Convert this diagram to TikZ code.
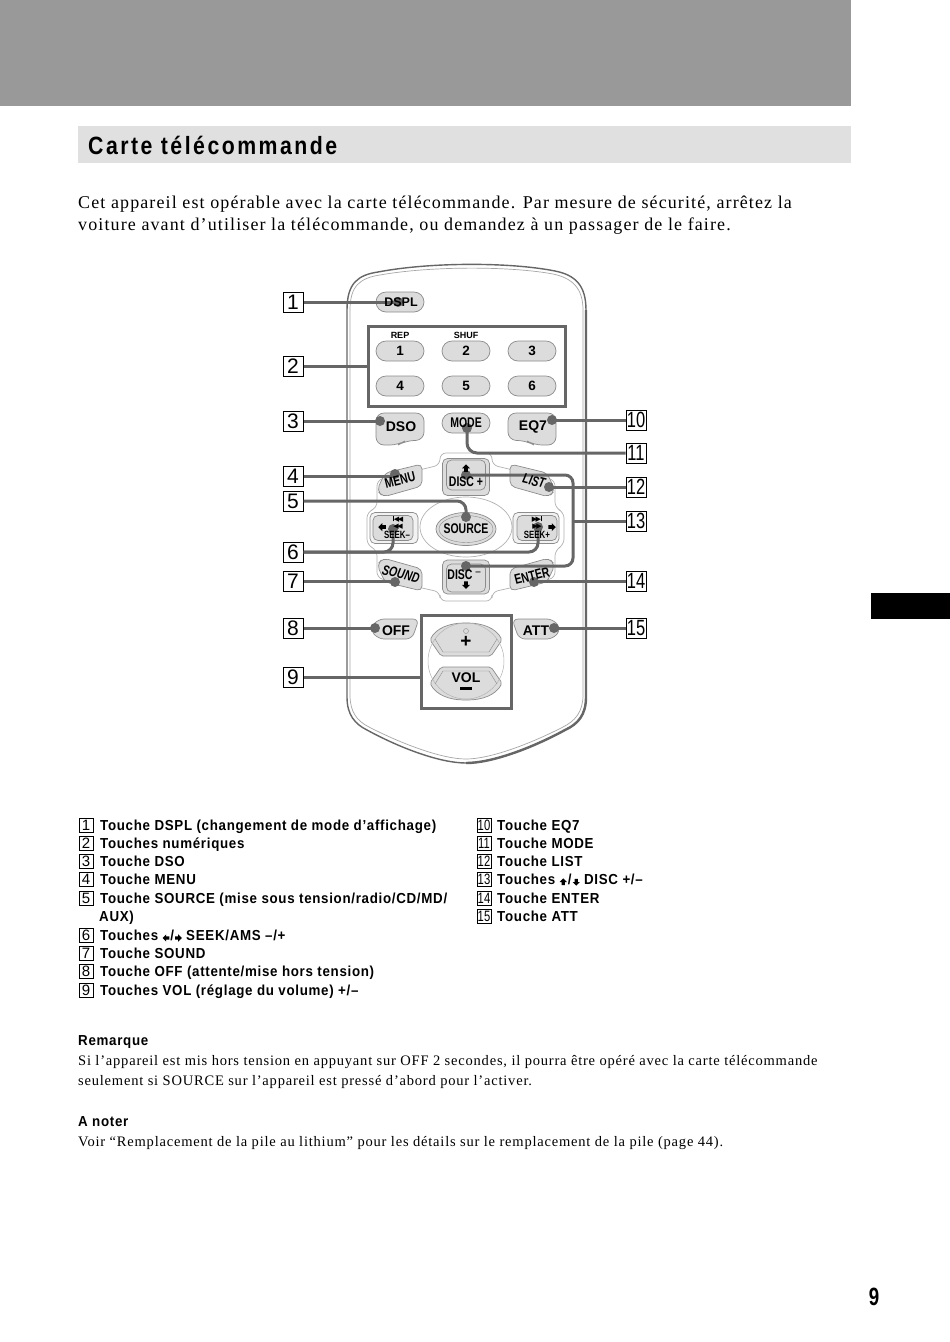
\documentclass[tikz,border=0pt]{standalone}
\usepackage{fontspec}
\setmainfont{Liberation Serif}
\newfontfamily\bodyserif[LetterSpace=6.2]{Liberation Serif}
\newfontfamily\noteserif[LetterSpace=5.5]{Liberation Serif}
\newfontfamily\listsans[LetterSpace=4.8,FakeStretch=0.92]{Liberation Sans}
\newfontfamily\titlesans[LetterSpace=10,FakeStretch=0.85]{Liberation Sans}
\newfontfamily\keysans{Liberation Sans}
\newfontfamily\narrowsans[FakeStretch=0.75]{Liberation Sans}
\newfontfamily\symfont{DejaVu Sans}
\usepackage{tikz}
\usetikzlibrary{shapes,positioning,calc}
\definecolor{leadgray}{HTML}{666666}
\definecolor{keyfill}{HTML}{DCDCDC}
\definecolor{keyline}{HTML}{8C8C8C}
\tikzset{
    numbox/.style={draw=black, line width=1pt, fill=white, minimum width=20pt, minimum height=20pt, inner sep=0pt, font=\keysans\fontsize{21}{21}\selectfont},
    numboxwide/.style={numbox, font=\narrowsans\fontsize{22}{22}\selectfont},
    listbox/.style={draw=black, line width=0.7pt, minimum width=14pt, minimum height=14pt, inner sep=0pt, font=\keysans\fontsize{15}{15}\selectfont},
    listboxwide/.style={listbox, font=\narrowsans\fontsize{15}{15}\selectfont},
    listline/.style={anchor=base west, yshift=-5pt, inner sep=0pt, font=\listsans\bfseries\fontsize{14.5}{14.5}\selectfont},
    bodyline/.style={anchor=base west, yshift=-6pt, inner sep=0pt, font=\bodyserif\fontsize{18}{18}\selectfont},
    noteline/.style={anchor=base west, yshift=-5pt, inner sep=0pt, font=\noteserif\fontsize{14.5}{14.5}\selectfont},
    roundkey/.style={shape=rounded rectangle, draw=keyline, line width=0.7pt, fill=keyfill, minimum width=48pt, minimum height=20pt, inner sep=0pt},
    keyshape/.style={draw=keyline, line width=0.7pt, fill=keyfill, rounded corners=5pt},
    squarekey/.style={draw=keyline, line width=0.7pt, fill=keyfill, rounded corners=5pt, inner sep=0pt},
    keylabel/.style={inner sep=0pt, font=\keysans\bfseries\fontsize{14}{14}\selectfont},
    digitlabel/.style={inner sep=0pt, font=\keysans\bfseries\fontsize{13.5}{13.5}\selectfont},
    narrowlabel/.style={inner sep=0pt, font=\narrowsans\bfseries\fontsize{14}{14}\selectfont},
    italiclabel/.style={inner sep=0pt, font=\narrowsans\bfseries\itshape\fontsize{14}{14}\selectfont},
    seeklabel/.style={inner sep=0pt, font=\narrowsans\bfseries\fontsize{10.5}{10.5}\selectfont},
    smalllabel/.style={inner sep=0pt, font=\keysans\bfseries\fontsize{9}{9}\selectfont},
    symlabel/.style={inner sep=0pt, font=\symfont\fontsize{7}{7}\selectfont},
    dotmark/.style={circle, fill=leadgray, minimum size=10pt, inner sep=0pt},
    leader/.style={draw=leadgray, line width=3pt},
    groupbox/.style={draw=leadgray, line width=3pt},
}
\newcommand{\blockarrow}[2][1]{\tikz[baseline=-2pt, x=#1pt, y=#1pt, rotate=#2]\fill[black] (-4,0) -- (0,4) -- (4,0) -- (1.8,0) -- (1.8,-3.5) -- (-1.8,-3.5) -- (-1.8,0) -- cycle;}
\newcommand{\menushape}{\draw[keyshape] (385,473) -- (422,464) -- (422,486) -- (383,497) -- (377,490) -- cycle;}
\newcommand{\offshape}{\draw[keyshape, rounded corners=6pt] (378,619) -- (419,619) -- (412,639) -- (378,639) -- (370,629) -- cycle;}
\newcommand{\volshape}{\draw[keyshape, rounded corners=2pt] (430,640) .. controls (436,628) and (450,623) .. (466,623) .. controls (482,623) and (496,628) .. (502,640) -- (491,656) -- (441,656) -- cycle;}
\newcommand{\dsoshape}{\draw[keyshape, rounded corners=8pt] (376,413) -- (424,413) -- (424,440) -- (405,441) -- (398,445) -- (376,445) -- cycle;}
\begin{document}
\begin{tikzpicture}[x=1pt, y=-1pt]
    \useasboundingbox (0,0) rectangle (950,1342);
    % page bands
    \fill[white] (0,0) rectangle (950,1342);
    \fill[black!40] (0,0) rectangle (851,106);
    \fill[black!12] (78,126) rectangle (851,163);
    \fill[black] (871,593) rectangle (950,619);
    \node[anchor=base west, yshift=-9pt, inner sep=0pt, font=\titlesans\bfseries\fontsize{25}{25}\selectfont] (title) at (88,145) {Carte télécommande};

    % intro
    \node[bodyline] (intro1) at (78,202) {Cet appareil est opérable avec la carte télécommande. Par mesure de sécurité, arrêtez la};
    \node[bodyline] (intro2) at (78,224) {voiture avant d’utiliser la télécommande, ou demandez à un passager de le faire.};

    % remote body
    \draw[fill=white, draw=black!60, line width=1.4pt] (347,310) .. controls (347,283) and (358,275) .. (378,272) .. controls (430,262) and (510,262) .. (555,271) .. controls (575,275) and (586,285) .. (586,310) -- (586,697) .. controls (586,715) and (578,724) .. (565,730) .. controls (532,748) and (492,763) .. (466,763) .. controls (440,763) and (400,748) .. (367,730) .. controls (355,724) and (347,715) .. (347,697) -- cycle;
    \draw[draw=black!35, line width=0.7pt] (350,310) .. controls (350,286) and (360,278) .. (380,275) .. controls (430,266) and (510,266) .. (553,274) .. controls (572,278) and (583,288) .. (583,310) -- (583,695) .. controls (583,712) and (575,721) .. (563,727) .. controls (530,744) and (490,759) .. (466,759) .. controls (442,759) and (402,744) .. (369,727) .. controls (357,721) and (350,712) .. (350,695) -- cycle;
    \draw[draw=black!60, line width=2.4pt] (586,310) -- (586,697) .. controls (586,715) and (578,724) .. (565,730) .. controls (532,748) and (492,763) .. (466,763);

    % pad frame
    \draw[draw=black!30, line width=0.7pt, fill=white, rounded corners=6pt] (440,453) -- (492,453) -- (492,465) -- (555,480) -- (555,508) -- (564,512) -- (564,545) -- (555,550) -- (555,578) -- (492,592) -- (492,601) -- (440,601) -- (440,592) -- (377,578) -- (377,550) -- (367,545) -- (367,512) -- (377,508) -- (377,480) -- (440,465) -- cycle;
    \node[shape=ellipse, draw=black!30, line width=0.7pt, fill=white, minimum width=92pt, minimum height=60pt, inner sep=0pt] (srcring) at (466,527) {};

    % keys
    \node[roundkey] (kDSPL) at (400,302) {};
    \foreach \k/\x/\y in {1/400/351, 2/466/351, 3/532/351, 4/400/386, 5/466/386, 6/532/386}
        \node[roundkey] (k\k) at (\x,\y) {};
    \node[roundkey] (kMODE) at (466,423) {};
    \dsoshape
    \begin{scope}[shift={(932,0)}, xscale=-1]
        \dsoshape
    \end{scope}
    \menushape
    \begin{scope}[shift={(932,0)}, xscale=-1]
        \menushape
    \end{scope}
    \begin{scope}[shift={(0,1055)}, yscale=-1]
        \menushape
    \end{scope}
    \begin{scope}[shift={(932,1055)}, xscale=-1, yscale=-1]
        \menushape
    \end{scope}
    \offshape
    \begin{scope}[shift={(931,0)}, xscale=-1]
        \offshape
    \end{scope}
    \volshape
    \begin{scope}[shift={(0,1323)}, yscale=-1]
        \volshape
    \end{scope}
    \node[shape=circle, draw=black!30, line width=0.5pt, minimum size=76pt, inner sep=0pt] (volring) at (466,661) {};
    \draw[draw=keyline, line width=0.4pt] (435,639) -- (443,652) -- (489,652) -- (497,639);
    \draw[draw=keyline, line width=0.4pt] (435,684) -- (443,671) -- (489,671) -- (497,684);
    \node[circle, draw=keyline, line width=0.4pt, minimum size=5pt, inner sep=0pt] (volmark) at (466,631) {};

    \node[squarekey, minimum width=47pt, minimum height=37pt] (kDiscUp) at (466,477) {};
    \node[squarekey, fill=none, minimum width=39pt, minimum height=30pt] (kDiscUpIn) at (466,475) {};
    \node[squarekey, minimum width=47pt, minimum height=34pt] (kDiscDn) at (466,577) {};
    \node[squarekey, fill=none, minimum width=39pt, minimum height=28pt] (kDiscDnIn) at (466,578) {};
    \node[squarekey, fill=black!5, minimum width=48pt, minimum height=31pt] (kSeekL) at (394,528) {};
    \node[squarekey, minimum width=40pt, minimum height=25pt] (kSeekLIn) at (393,528) {};
    \node[squarekey, fill=black!5, minimum width=46pt, minimum height=31pt] (kSeekR) at (536,528) {};
    \node[squarekey, minimum width=40pt, minimum height=25pt] (kSeekRIn) at (537,528) {};
    \node[shape=ellipse, draw=keyline, line width=0.7pt, fill=keyfill, minimum width=60pt, minimum height=33pt, inner sep=0pt] (kSource) at (466,529) {};
    \node[shape=ellipse, draw=keyline, line width=0.4pt, minimum width=54pt, minimum height=27pt, inner sep=0pt] (kSourceIn) at (466,529) {};

    % leader ends
    \foreach \d/\x/\y in {1/398/302, 3/380/421, 4/395/474, 5/466/517, 6/393/529, 7/395/582, 8/375/628, 10/552/420, 11/467/428, 12/549/487, 14/534/582, 15/554/628}
        \node[dotmark] (d\d) at (\x,\y) {};
    \node[dotmark] (d6b) at (538,527) {};
    \node[dotmark] (d13a) at (466,475) {};
    \node[dotmark] (d13b) at (466,566) {};
    \coordinate (t13) at (573,521);

    % number boxes
    \foreach \i/\y in {1/302, 2/366, 3/421, 4/476, 5/501, 6/552, 7/581, 8/628, 9/677}
        \node[numbox] (n\i) at (293,\y) {\i};
    \foreach \i/\y in {10/420, 11/453, 12/487, 13/521, 14/581, 15/628}
        \node[numboxwide] (n\i) at (636,\y) {\i};

    % group boxes
    \node[groupbox, minimum width=197pt, minimum height=80pt, inner sep=0pt] (gNum) at (466.5,366) {};
    \node[groupbox, minimum width=90pt, minimum height=93pt, inner sep=0pt] (gVol) at (466,661.5) {};

    % leaders
    \draw[leader] (n1.east) -- (d1.center);
    \draw[leader] (n2.east) -- (gNum.west);
    \draw[leader] (n3.east) -- (d3.center);
    \draw[leader] (n4.east) -- (d4.center |- n4.east);
    \draw[leader, rounded corners=9pt] (n5.east) -| (d5.center);
    \draw[leader, rounded corners=9pt] (n6.east) -| (d6.center);
    \draw[leader, rounded corners=9pt] (n6.east) -| (d6b.center);
    \draw[leader] (n7.east) -- (d7.center |- n7.east);
    \draw[leader] (n8.east) -- (d8.center);
    \draw[leader] (n9.east) -- (gVol.west |- n9.east);
    \draw[leader] (n10.west) -- (d10.center);
    \draw[leader, rounded corners=10pt] (n11.west) -| (d11.center);
    \draw[leader] (n12.west) -- (d12.center);
    \draw[leader] (n13.west) -- (t13);
    \draw[leader, rounded corners=8pt] (d13a.center) -| (t13) |- (d13b.center);
    \draw[leader] (n14.west) -- (d14.center |- n14.west);
    \draw[leader] (n15.west) -- (d15.center);

    % key labels
    \node[digitlabel, font=\keysans\bfseries\fontsize{12.5}{12.5}\selectfont] (lDSPL) at (401,302) {DSPL};
    \node[smalllabel] (lREP) at (400,335) {REP};
    \node[smalllabel] (lSHUF) at (466,335) {SHUF};
    \foreach \k/\x/\y in {1/400/351, 2/466/351, 3/532/351, 4/400/386, 5/466/386, 6/532/386}
        \node[digitlabel] (l\k) at (\x,\y) {\k};
    \node[keylabel] (lDSO) at (401,427) {DSO};
    \node[narrowlabel] (lMODE) at (466,423) {MODE};
    \node[keylabel] (lEQ) at (533,427) {EQ7};
    \node[narrowlabel, rotate=14] (lMENU) at (400,480) {MENU};
    \node[italiclabel, rotate=-14] (lLIST) at (534,481) {LIST};
    \node[italiclabel, rotate=-14] (lSOUND) at (401,574) {SOUND};
    \node[narrowlabel, rotate=14] (lENTER) at (532,576) {ENTER};
    \node[symlabel] (aUp) at (466,468) {\blockarrow{0}};
    \node[narrowlabel] (lDiscUp) at (466,482) {DISC +};
    \node[narrowlabel] (lDiscDn) at (460,575) {DISC};
    \node[narrowlabel, font=\narrowsans\fontsize{12}{12}\selectfont] (lDiscMinus) at (478,574) {–};
    \node[symlabel] (aDn) at (466,585) {\blockarrow{180}};
    \node[narrowlabel] (lSource) at (466,529) {SOURCE};
    \node[symlabel] (aPrev) at (398,519) {\rule[-0.1pt]{1.2pt}{5.5pt}◀\kern-1.5pt◀};
    \node[symlabel] (aBack) at (398,527) {◀\kern-1.5pt◀};
    \node[symlabel] (aLeft) at (382,527) {\blockarrow{90}};
    \node[seeklabel] (lSeekL) at (397,535) {SEEK–};
    \node[symlabel] (aNext) at (537,519) {▶\kern-1.5pt▶\rule[-0.1pt]{1.2pt}{5.5pt}};
    \node[symlabel] (aFwd) at (537,527) {▶\kern-1.5pt▶};
    \node[symlabel] (aRight) at (552,527) {\blockarrow{-90}};
    \node[seeklabel] (lSeekR) at (537,535) {SEEK+};
    \node[keylabel] (lOFF) at (396,631) {OFF};
    \node[keylabel] (lATT) at (536,631) {ATT};
    \node[keylabel, font=\keysans\bfseries\fontsize{19}{19}\selectfont] (lPlus) at (466,642) {+};
    \node[keylabel] (lVOL) at (466,678) {VOL};
    \draw[black, line width=2.2pt] (460,688.5) -- (472,688.5);

    % list, left column
    \foreach \i/\y in {1/825, 2/843, 3/861, 4/879, 5/898, 6/935, 7/953, 8/971, 9/990}
        \node[listbox] (b\i) at (86,\y) {\i};
    \node[listline] (t1) at (100,825) {Touche DSPL (changement de mode d’affichage)};
    \node[listline] (t2) at (100,843) {Touches numériques};
    \node[listline] (t3) at (100,861) {Touche DSO};
    \node[listline] (t4) at (100,879) {Touche MENU};
    \node[listline] (t5) at (100,898) {Touche SOURCE (mise sous tension/radio/CD/MD/};
    \node[listline] (t5b) at (99,916) {AUX)};
    \node[listline] (t6) at (100,935) {Touches \blockarrow[0.9]{90}\kern1pt/\kern1pt\blockarrow[0.9]{-90} SEEK/AMS –/+};
    \node[listline] (t7) at (100,953) {Touche SOUND};
    \node[listline] (t8) at (100,971) {Touche OFF (attente/mise hors tension)};
    \node[listline] (t9) at (100,990) {Touches VOL (réglage du volume) +/–};

    % list, right column
    \foreach \i/\y in {10/825, 11/843, 12/861, 13/879, 14/898, 15/916}
        \node[listboxwide] (b\i) at (484,\y) {\i};
    \node[listline] (t10) at (497,825) {Touche EQ7};
    \node[listline] (t11) at (497,843) {Touche MODE};
    \node[listline] (t12) at (497,861) {Touche LIST};
    \node[listline] (t13) at (497,879) {Touches \blockarrow[0.9]{0}\kern1pt/\kern1pt\blockarrow[0.9]{180} DISC +/–};
    \node[listline] (t14) at (497,898) {Touche ENTER};
    \node[listline] (t15) at (497,916) {Touche ATT};

    % notes
    \node[listline] (rem) at (78,1040) {Remarque};
    \node[noteline] (rem1) at (78,1060) {Si l’appareil est mis hors tension en appuyant sur OFF 2 secondes, il pourra être opéré avec la carte télécommande};
    \node[noteline] (rem2) at (78,1080) {seulement si SOURCE sur l’appareil est pressé d’abord pour l’activer.};
    \node[listline] (note) at (78,1121) {A noter};
    \node[noteline] (note1) at (78,1141) {Voir “Remplacement de la pile au lithium” pour les détails sur le remplacement de la pile (page 44).};

    % page number
    \node[inner sep=0pt, font=\narrowsans\bfseries\fontsize{25}{25}\selectfont] (pageno) at (874,1297) {9};
\end{tikzpicture}
\end{document}
